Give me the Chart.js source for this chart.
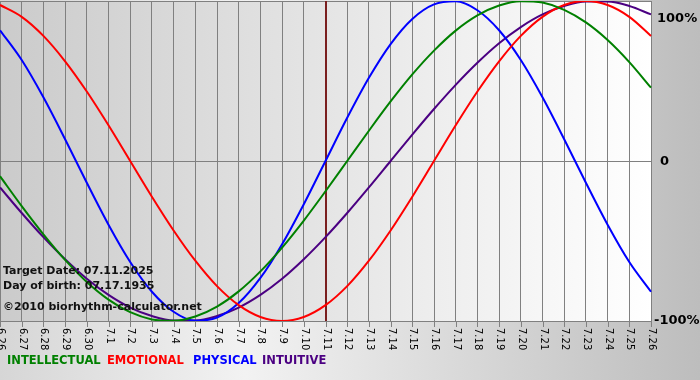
<!DOCTYPE html>
<html>
<head>
<meta charset="utf-8">
<script src="https://cdn.jsdelivr.net/npm/chart.js@4"></script>
<style>
  html, body { margin: 0; padding: 0; background: #fff; }
  #wrap { width: 700px; height: 380px; position: relative; }
</style>
</head>
<body>
<div id="wrap"><canvas id="bio" width="700" height="380"></canvas></div>
<script>
const days = ['6.26', '6.27', '6.28', '6.29', '6.30', '7.1', '7.2', '7.3', '7.4', '7.5', '7.6', '7.7', '7.8', '7.9', '7.10',
  '7.11', '7.12', '7.13', '7.14', '7.15', '7.16', '7.17', '7.18', '7.19', '7.20', '7.21', '7.22', '7.23', '7.24', '7.25', '7.26'];

const intellectual = [-0.095, -0.282, -0.458, -0.618, -0.756, -0.866, -0.945, -0.990, -0.999, -0.972, -0.910, -0.815, -0.690, -0.541, -0.372,
  -0.189, 0.000, 0.189, 0.372, 0.541, 0.690, 0.815, 0.910, 0.972, 0.999, 0.990, 0.945, 0.866, 0.756, 0.618, 0.458];
const emotional = [0.975, 0.901, 0.782, 0.623, 0.434, 0.223, 0.000, -0.223, -0.434, -0.623, -0.782, -0.901, -0.975, -1.000, -0.975,
  -0.901, -0.782, -0.623, -0.434, -0.223, 0.000, 0.223, 0.434, 0.623, 0.782, 0.901, 0.975, 1.000, 0.975, 0.901, 0.782];
const physical = [0.817, 0.631, 0.398, 0.136, -0.136, -0.398, -0.631, -0.817, -0.942, -0.998, -0.979, -0.888, -0.731, -0.520, -0.270,
  0.000, 0.270, 0.520, 0.731, 0.888, 0.979, 0.998, 0.942, 0.817, 0.631, 0.398, 0.136, -0.136, -0.398, -0.631, -0.817];
const intuitive = [-0.165, -0.325, -0.476, -0.614, -0.736, -0.837, -0.916, -0.969, -0.997, -0.997, -0.969, -0.916, -0.837, -0.736, -0.614,
  -0.476, -0.325, -0.165, 0.000, 0.165, 0.325, 0.476, 0.614, 0.736, 0.837, 0.916, 0.969, 0.997, 0.997, 0.969, 0.916];

const targetDay = '7.11';
const axisLabels = ['100%', '0', '-100%'];
const infoLines = ['Target Date: 07.11.2025', 'Day of birth: 07.17.1935', '\u00a92010 biorhythm-calculator.net'];
const legendNames = ['INTELLECTUAL', 'EMOTIONAL', 'PHYSICAL', 'INTUITIVE'];
const legendColors = ['#008000', '#ff0000', '#0000ff', '#4b0082'];

const FONT = '"DejaVu Sans", Verdana, sans-serif';

// background gradients, target line, rotated day labels, side labels, texts
const bioPlugin = {
  id: 'bio',
  beforeDraw(chart) {
    const { ctx, chartArea: a, width, height } = chart;
    ctx.save();
    let g = ctx.createLinearGradient(0, 0, width, 0);
    g.addColorStop(0, '#d6d6d6');
    g.addColorStop(0.35, '#f2f2f2');
    g.addColorStop(1, '#bdbdbd');
    ctx.fillStyle = g;
    ctx.fillRect(0, 0, width, height);
    g = ctx.createLinearGradient(a.left, 0, a.right, 0);
    g.addColorStop(0, '#cbcbcb');
    g.addColorStop(1, '#ffffff');
    ctx.fillStyle = g;
    ctx.fillRect(a.left, a.top, a.right - a.left, a.bottom - a.top);
    ctx.restore();
  },
  beforeDatasetsDraw(chart) {
    const { ctx, chartArea: a, scales } = chart;
    const x = Math.round(scales.x.getPixelForValue(days.indexOf(targetDay)));
    ctx.save();
    ctx.strokeStyle = '#7a1f1f';
    ctx.lineWidth = 2;
    ctx.beginPath();
    ctx.moveTo(x, a.top);
    ctx.lineTo(x, a.bottom);
    ctx.stroke();
    ctx.restore();
  },
  afterDatasetsDraw(chart) {
    const { ctx, chartArea: a, scales } = chart;
    ctx.save();
    // tick marks + day labels
    ctx.strokeStyle = '#808080';
    ctx.lineWidth = 1;
    ctx.fillStyle = '#000';
    ctx.font = '10px ' + FONT;
    days.forEach((d, i) => {
      const x = Math.round(scales.x.getPixelForValue(i)) + 0.5;
      ctx.beginPath();
      ctx.moveTo(x, a.bottom);
      ctx.lineTo(x, a.bottom + 6);
      ctx.stroke();
      ctx.save();
      ctx.translate(x, a.bottom + 7);
      ctx.rotate(Math.PI / 2);
      ctx.textAlign = 'left';
      ctx.textBaseline = 'middle';
      ctx.fillText(d, 0, 0);
      ctx.restore();
    });
    // right side labels
    ctx.font = 'bold 13px ' + FONT;
    ctx.textAlign = 'left';
    ctx.textBaseline = 'middle';
    ctx.fillText(axisLabels[0], a.right + 6, a.top + 18);
    ctx.fillText(axisLabels[1], a.right + 9, scales.y.getPixelForValue(0) + 1);
    ctx.fillText(axisLabels[2], a.right + 3, a.bottom);
    // info text
    ctx.font = 'bold 11px ' + FONT;
    ctx.fillStyle = '#111';
    ctx.fillText(infoLines[0], 3, 271);
    ctx.fillText(infoLines[1], 3, 286);
    ctx.fillText(infoLines[2], 3, 307);
    // legend
    ctx.font = 'bold 11.5px ' + FONT;
    const legendX = [7, 107, 193, 262];
    legendNames.forEach((n, i) => {
      ctx.fillStyle = legendColors[i];
      ctx.fillText(n, legendX[i], 361);
    });
    ctx.restore();
  }
};

new Chart(document.getElementById('bio'), {
  type: 'line',
  data: {
    labels: days,
    datasets: [
      { label: 'INTELLECTUAL', data: intellectual, borderColor: '#008000' },
      { label: 'EMOTIONAL', data: emotional, borderColor: '#ff0000' },
      { label: 'PHYSICAL', data: physical, borderColor: '#0000ff' },
      { label: 'INTUITIVE', data: intuitive, borderColor: '#4b0082' }
    ].map(d => Object.assign(d, { borderWidth: 2, pointRadius: 0, cubicInterpolationMode: 'monotone', fill: false }))
  },
  options: {
    responsive: false,
    animation: false,
    layout: { padding: { left: 0, top: 1, right: 49, bottom: 59 } },
    plugins: { legend: { display: false }, tooltip: { enabled: false } },
    scales: {
      x: {
        offset: false,
        grid: { color: '#808080', lineWidth: 1, drawTicks: false },
        border: { color: '#808080' },
        ticks: { display: false }
      },
      y: {
        min: -1, max: 1,
        position: 'right',
        ticks: { display: false, stepSize: 1 },
        grid: { color: '#808080', lineWidth: 1, drawTicks: false },
        border: { display: false }
      }
    }
  },
  plugins: [bioPlugin]
});
</script>
</body>
</html>
